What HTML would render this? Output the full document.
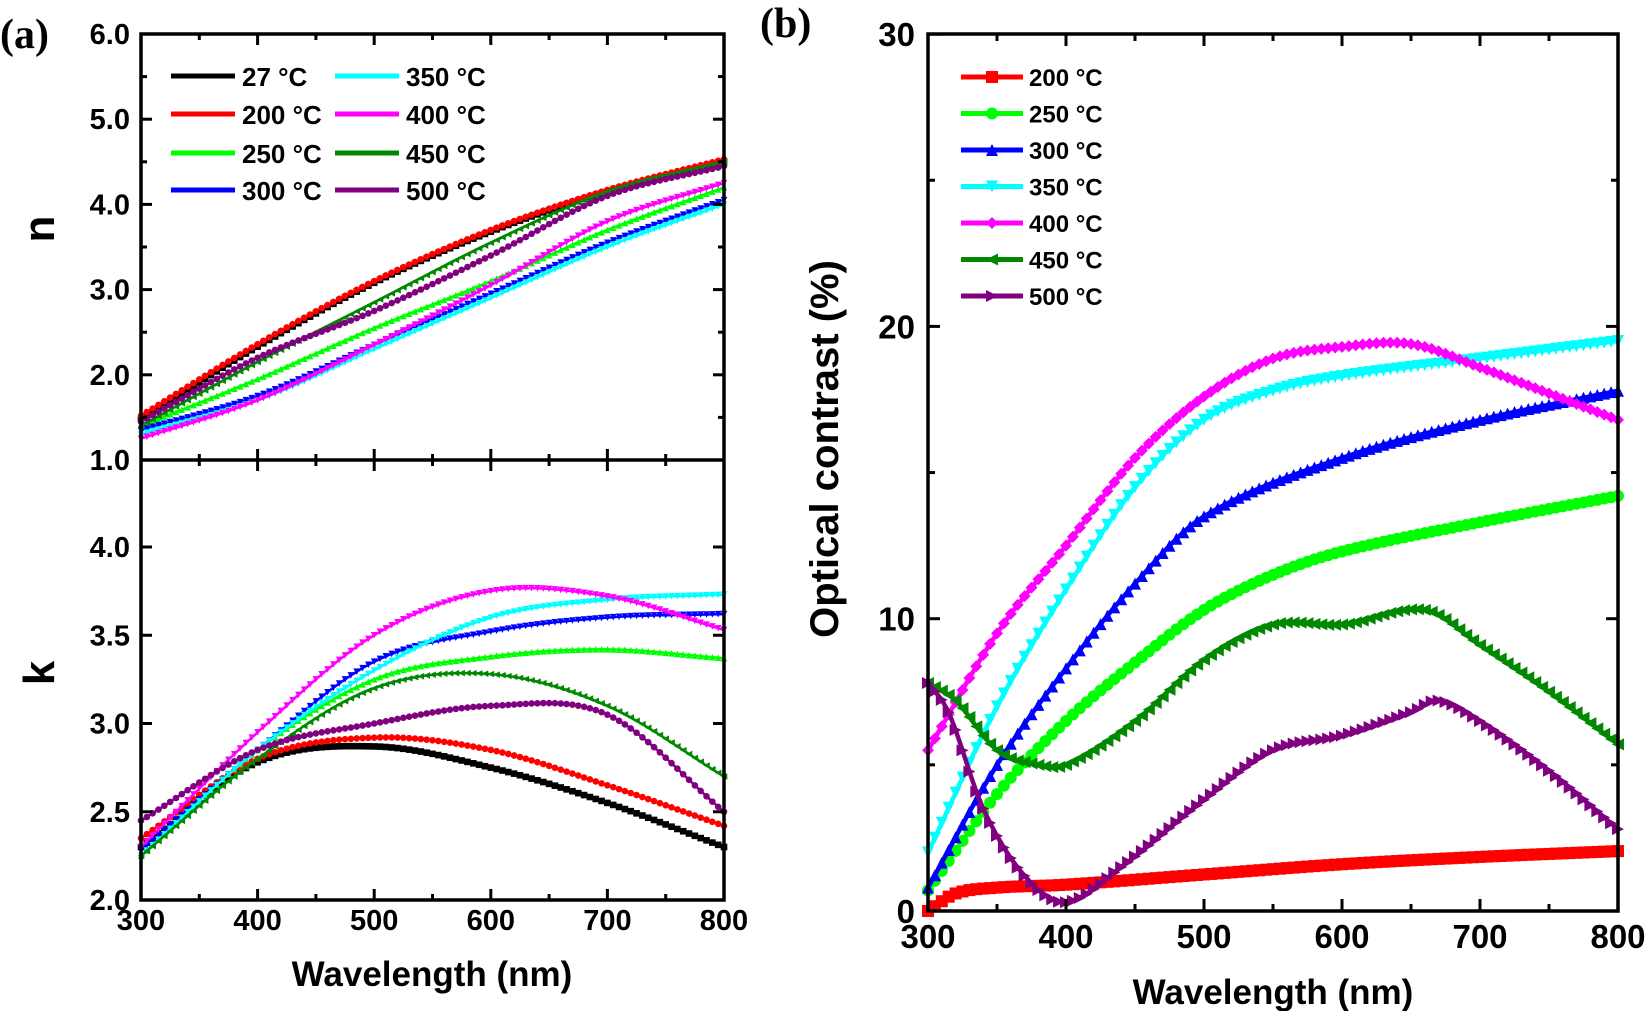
<!DOCTYPE html><html><head><meta charset="utf-8"><style>body{margin:0;background:#fff}svg{display:block}text{font-family:"Liberation Sans",sans-serif;font-weight:bold}</style></head><body>
<svg id="s" width="1650" height="1011" xmlns="http://www.w3.org/2000/svg"></svg>
<script>
const S=document.getElementById('s');let h='';
function cr(pts,x){for(let i=0;i<pts.length-1;i++){if(x>=pts[i][0]&&x<=pts[i+1][0]){const p0=pts[Math.max(0,i-1)],p1=pts[i],p2=pts[i+1],p3=pts[Math.min(pts.length-1,i+2)];const t=(x-p1[0])/(p2[0]-p1[0]);const m1=(p2[1]-p0[1])/(p2[0]-p0[0])*(p2[0]-p1[0]),m2=(p3[1]-p1[1])/(p3[0]-p1[0])*(p2[0]-p1[0]);const t2=t*t,t3=t2*t;return (2*t3-3*t2+1)*p1[1]+(t3-2*t2+t)*m1+(-2*t3+3*t2)*p2[1]+(t3-t2)*m2;}}return pts[pts.length-1][1];}
function series(pts,X,Y,col,sw,step,mk,ms){let d='';let m='';for(let x=300;x<=800;x+=step){const px=X(x),py=Y(cr(pts,x));d+=(d?'L':'M')+px.toFixed(1)+' '+py.toFixed(1);m+=marker(mk,px,py,ms,col);}h+=`<path d="${d}" fill="none" stroke="${col}" stroke-width="${sw}"/>`+m;}
function marker(k,x,y,s,c){if(k=='s')return `<rect x="${x-s}" y="${y-s}" width="${2*s}" height="${2*s}" fill="${c}"/>`;if(k=='c')return `<circle cx="${x}" cy="${y}" r="${s}" fill="${c}"/>`;if(k=='u')return `<path d="M${x} ${y-s}L${x+s} ${y+s}L${x-s} ${y+s}Z" fill="${c}"/>`;if(k=='d')return `<path d="M${x-s} ${y-s}L${x+s} ${y-s}L${x} ${y+s}Z" fill="${c}"/>`;if(k=='l')return `<path d="M${x-s} ${y}L${x+s} ${y-s}L${x+s} ${y+s}Z" fill="${c}"/>`;if(k=='r')return `<path d="M${x+s} ${y}L${x-s} ${y-s}L${x-s} ${y+s}Z" fill="${c}"/>`;if(k=='D')return `<path d="M${x} ${y-s}L${x+s} ${y}L${x} ${y+s}L${x-s} ${y}Z" fill="${c}"/>`;return '';}
const W=[300,400,500,600,700,800];const z=a=>a.map((v,i)=>[W[i],v]);
const AX=x=>141+(x-300)*583/500, NY=v=>460-(v-1)*85.2, KY=v=>900-(v-2)*176.5;
const cols={27:'#000',200:'#f00',250:'#0f0',300:'#00f',350:'#0ff',400:'#f0f',450:'#080',500:'#800080'};
const mks={27:'s',200:'c',250:'u',300:'d',350:'d',400:'d',450:'l',500:'c'};
const N={350:[1.3,1.7,2.3,2.9,3.5,4.0],300:[1.35,1.75,2.35,2.95,3.55,4.05],400:[1.25,1.7,2.35,3.05,3.8,4.25],250:[1.4,1.95,2.55,3.1,3.7,4.2],500:[1.45,2.2,2.75,3.4,4.1,4.45],450:[1.4,2.15,2.85,3.55,4.15,4.5],27:[1.48,2.33,3.08,3.68,4.15,4.5],200:[1.52,2.36,3.1,3.7,4.17,4.53]};
const K={27:[2.3,2.78,2.87,2.75,2.55,2.3],200:[2.35,2.8,2.92,2.85,2.65,2.42],250:[2.25,2.85,3.25,3.38,3.42,3.37],300:[2.28,2.85,3.35,3.52,3.6,3.62],350:[2.25,2.85,3.3,3.6,3.7,3.73],400:[2.3,2.95,3.5,3.75,3.72,3.53],450:[2.25,2.8,3.2,3.28,3.1,2.7],500:[2.45,2.85,3.0,3.1,3.05,2.5]};
for(const k in N)series(z(N[k]),AX,NY,cols[k],2.5,5,mks[k],3.3);
for(const k in K)series(z(K[k]),AX,KY,cols[k],2.5,5,mks[k],3.3);
h+=`<rect x="141" y="34" width="583" height="866" fill="none" stroke="#000" stroke-width="3.5"/><line x1="141" y1="460" x2="724" y2="460" stroke="#000" stroke-width="3.5"/>`;
for(let x=300;x<=800;x+=50){const px=AX(x),L=x%100?6:11;h+=`<line x1="${px}" y1="900" x2="${px}" y2="${900-L}" stroke="#000" stroke-width="3"/><line x1="${px}" y1="460" x2="${px}" y2="${460-L}" stroke="#000" stroke-width="3"/><line x1="${px}" y1="460" x2="${px}" y2="${460+L}" stroke="#000" stroke-width="3"/><line x1="${px}" y1="34" x2="${px}" y2="${34+L}" stroke="#000" stroke-width="3"/>`;if(x%100==0)h+=`<text x="${px}" y="930" font-size="29" text-anchor="middle">${x}</text>`;}
for(let v=1;v<=6;v+=0.5){const py=NY(v),L=(v%1)?6:11;h+=`<line x1="141" y1="${py}" x2="${141+L}" y2="${py}" stroke="#000" stroke-width="3"/><line x1="724" y1="${py}" x2="${724-L}" y2="${py}" stroke="#000" stroke-width="3"/>`;if(v%1==0)h+=`<text x="130" y="${py+10}" font-size="29" text-anchor="end">${v.toFixed(1)}</text>`;}
for(let v=2;v<=4;v+=0.5){const py=KY(v);h+=`<line x1="141" y1="${py}" x2="152" y2="${py}" stroke="#000" stroke-width="3"/><line x1="724" y1="${py}" x2="713" y2="${py}" stroke="#000" stroke-width="3"/><text x="130" y="${py+10}" font-size="29" text-anchor="end">${v.toFixed(1)}</text>`;}
h+=`<text x="0" y="0" font-size="44" text-anchor="middle" transform="translate(54,229) rotate(-90)">n</text><text x="0" y="0" font-size="44" text-anchor="middle" transform="translate(54,673) rotate(-90)">k</text>`;
h+=`<text x="432" y="986" font-size="35" text-anchor="middle">Wavelength (nm)</text>`;
h+=`<text x="0" y="48" font-size="42" style="font-family:'Liberation Serif',serif">(a)</text><text x="760" y="37" font-size="42" style="font-family:'Liberation Serif',serif">(b)</text>`;
const leg=[[27,171,76],[200,171,114],[250,171,153],[300,171,190],[350,335,76],[400,335,114],[450,335,153],[500,335,190]];
for(const [k,x,y] of leg){h+=`<line x1="${x}" y1="${y}" x2="${x+64}" y2="${y}" stroke="${cols[k]}" stroke-width="5"/><text x="${x+71}" y="${y+10}" font-size="26">${k} °C</text>`;}
const BX=x=>928+(x-300)*690/500, BY=v=>911-v*29.23;
const B=[
[200,'#f00','s',[[300,0],[320,0.6],[350,0.8],[400,0.9],[500,1.25],[600,1.6],[700,1.85],[800,2.05]]],
[250,'#0f0','c',[[300,0.7],[350,4],[400,6.5],[450,8.5],[500,10.3],[550,11.5],[600,12.3],[700,13.3],[800,14.2]]],
[300,'#00f','u',[[300,0.8],[350,5],[400,8.3],[450,11.2],[500,13.5],[600,15.5],[700,16.8],[800,17.8]]],
[350,'#0ff','d',[[300,2],[350,7],[400,11],[450,14.5],[500,16.8],[550,17.8],[600,18.3],[700,18.9],[800,19.5]]],
[400,'#f0f','D',[[300,5.5],[350,9.5],[400,12.5],[450,15.5],[500,17.6],[550,18.9],[600,19.3],[650,19.4],[700,18.6],[800,16.8]]],
[450,'#080','l',[[300,7.8],[320,7.2],[350,5.5],[380,5],[400,5],[450,6.5],[500,8.6],[550,9.8],[600,9.8],[660,10.3],[700,9.1],[750,7.5],[800,5.7]]],
[500,'#800080','r',[[300,7.8],[315,6.8],[340,3.5],[370,1.2],[400,0.3],[440,1.5],[500,3.8],[550,5.5],[600,6],[650,6.8],[670,7.2],[700,6.5],[750,4.8],[800,2.8]]]];
for(const [k,c,m,p] of B)series(p,BX,BY,c,4.5,5,m,6);
h+=`<rect x="928" y="34" width="690" height="877" fill="none" stroke="#000" stroke-width="3.5"/>`;
for(let x=300;x<=800;x+=50){const px=BX(x),L=x%100?7:12;h+=`<line x1="${px}" y1="911" x2="${px}" y2="${911-L}" stroke="#000" stroke-width="3"/><line x1="${px}" y1="34" x2="${px}" y2="${34+L}" stroke="#000" stroke-width="3"/>`;if(x%100==0)h+=`<text x="${px}" y="948" font-size="33" text-anchor="middle">${x}</text>`;}
for(let v=0;v<=30;v+=5){const py=BY(v),L=v%10?7:12;h+=`<line x1="928" y1="${py}" x2="${928+L}" y2="${py}" stroke="#000" stroke-width="3"/><line x1="1618" y1="${py}" x2="${1618-L}" y2="${py}" stroke="#000" stroke-width="3"/>`;if(v%10==0)h+=`<text x="915" y="${py+12}" font-size="33" text-anchor="end">${v}</text>`;}
h+=`<text x="1273" y="1004" font-size="35" text-anchor="middle">Wavelength (nm)</text><text font-size="40" text-anchor="middle" transform="translate(838,449) rotate(-90)">Optical contrast (%)</text>`;
let ly=77;for(const [k,c,m] of B){h+=`<line x1="961" y1="${ly}" x2="1023" y2="${ly}" stroke="${c}" stroke-width="5"/>`+marker(m,992,ly,6,c)+`<text x="1029" y="${ly+9}" font-size="24">${k} °C</text>`;ly+=36.5;}
S.innerHTML=h;
</script></body></html>
